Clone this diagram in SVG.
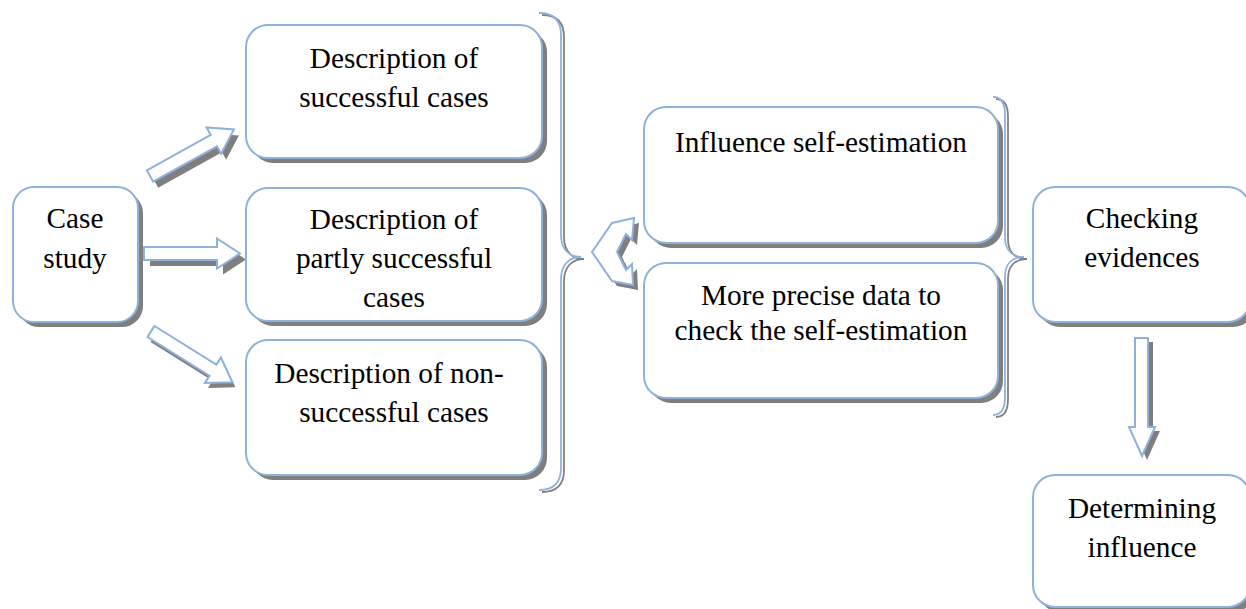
<svg xmlns="http://www.w3.org/2000/svg" width="1246" height="609" viewBox="0 0 1246 609">
<defs>
<style>
.box{fill:#fff;stroke:#8FB1DC;stroke-width:2}
.sh{fill:#7F7F7F;stroke:none}
.t{font-family:"Liberation Serif","Times New Roman",serif;font-size:29.3px;fill:#000;text-anchor:middle}
.arr{fill:#fff;stroke:#8FB1DC;stroke-width:2;stroke-linejoin:miter}
.brace{fill:none;stroke:#8FB1DC;stroke-width:1.8}
.braceSh{fill:none;stroke:#808080;stroke-width:1.8}
</style>
<polygon id="harrow" points="0,-6.5 73,-6.5 73,-15 96,0 73,15 73,6.5 0,6.5"/>
</defs>
<rect width="1246" height="609" fill="#fff"/>

<g id="connectors">
  <g id="arrow-top">
    <use href="#harrow" class="sh" transform="translate(155,182) rotate(-29)"/>
    <use href="#harrow" class="arr" transform="translate(150,176) rotate(-29)"/>
  </g>
  <g id="arrow-mid">
    <use href="#harrow" class="sh" transform="translate(150,259.5)"/>
    <use href="#harrow" class="arr" transform="translate(144,253.5)"/>
  </g>
  <g id="arrow-bottom">
    <use href="#harrow" class="sh" transform="translate(154,336.5) rotate(32)"/>
    <use href="#harrow" class="arr" transform="translate(151,331.5) rotate(32)"/>
  </g>
  <g id="brace-left">
    <path class="braceSh" transform="translate(3,2)" d="M539,13 C553,13 561,20 561,35 L561,235 C561,249 569,257 581,257 C569,257 561,265 561,279 L561,468 C561,483 553,490 539,490"/>
    <path class="brace" d="M539,13 C553,13 561,20 561,35 L561,235 C561,249 569,257 581,257 C569,257 561,265 561,279 L561,468 C561,483 553,490 539,490"/>
  </g>
  <g id="double-arrow">
    <path class="sh" transform="translate(5,5)" d="M592,252 L612,223 L634,218 L632,240 L626,234 L617,252 L626,270 L632,264 L633,285 L612,281 Z"/>
    <path class="arr" d="M592,252 L612,223 L634,218 L632,240 L626,234 L617,252 L626,270 L632,264 L633,285 L612,281 Z"/>
  </g>
  <g id="brace-right">
    <path class="braceSh" transform="translate(3,2)" d="M993,97 C1001,97 1005,103 1005,115 L1005,237 C1005,250 1012,257 1024,257 C1012,257 1005,264 1005,277 L1005,397 C1005,409 1001,415 993,415"/>
    <path class="brace" d="M993,97 C1001,97 1005,103 1005,115 L1005,237 C1005,250 1012,257 1024,257 C1012,257 1005,264 1005,277 L1005,397 C1005,409 1001,415 993,415"/>
  </g>
  <g id="arrow-down">
    <polygon class="sh" transform="translate(5,4)" points="1135,338 1148,338 1148,427 1155,427 1142,456 1129,427 1135,427"/>
    <polygon class="arr" points="1135,338 1148,338 1148,427 1155,427 1142,456 1129,427 1135,427"/>
  </g>
</g>

<g id="node-case-study">
  <rect class="sh" x="18" y="192" width="125" height="135" rx="21"/>
  <rect class="box" x="13" y="187" width="125" height="135" rx="21"/>
  <text class="t" x="75" y="228">Case</text>
  <text class="t" x="75" y="268">study</text>
</g>

<g id="node-successful">
  <rect class="sh" x="251" y="30" width="296" height="133" rx="22"/>
  <rect class="box" x="246" y="25" width="296" height="133" rx="22"/>
  <text class="t" x="394" y="68">Description of</text>
  <text class="t" x="394" y="107">successful cases</text>
</g>

<g id="node-partly">
  <rect class="sh" x="251" y="193" width="296" height="133" rx="22"/>
  <rect class="box" x="246" y="188" width="296" height="133" rx="22"/>
  <text class="t" x="394" y="229">Description of</text>
  <text class="t" x="394" y="268">partly successful</text>
  <text class="t" x="394" y="307">cases</text>
</g>

<g id="node-non-successful">
  <rect class="sh" x="251" y="345" width="296" height="135" rx="22"/>
  <rect class="box" x="246" y="340" width="296" height="135" rx="22"/>
  <text class="t" x="389" y="383">Description of non-</text>
  <text class="t" x="394" y="422">successful cases</text>
</g>

<g id="node-influence">
  <rect class="sh" x="649" y="112" width="354" height="136" rx="22"/>
  <rect class="box" x="644" y="107" width="354" height="136" rx="22"/>
  <text class="t" x="821" y="152">Influence self-estimation</text>
</g>

<g id="node-precise">
  <rect class="sh" x="649" y="268" width="354" height="135" rx="22"/>
  <rect class="box" x="644" y="263" width="354" height="135" rx="22"/>
  <text class="t" x="821" y="305">More precise data to</text>
  <text class="t" x="821" y="340">check the self-estimation</text>
</g>

<g id="node-checking">
  <rect class="sh" x="1038" y="192" width="217" height="135" rx="22"/>
  <rect class="box" x="1033" y="187" width="217" height="135" rx="22"/>
  <text class="t" x="1142" y="228">Checking</text>
  <text class="t" x="1142" y="267">evidences</text>
</g>

<g id="node-determining">
  <rect class="sh" x="1038" y="480" width="217" height="132" rx="22"/>
  <rect class="box" x="1033" y="475" width="217" height="132" rx="22"/>
  <text class="t" x="1142" y="518">Determining</text>
  <text class="t" x="1142" y="557">influence</text>
</g>
</svg>
